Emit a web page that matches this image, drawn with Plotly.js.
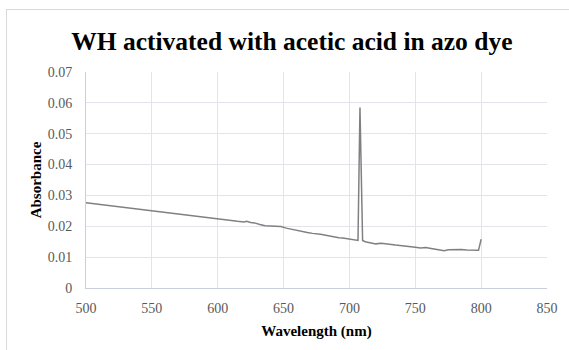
<!DOCTYPE html>
<html>
<head>
<meta charset="utf-8">
<script src="https://cdn.plot.ly/plotly-3.0.1.min.js"></script>
<style>
  html, body { margin: 0; padding: 0; background: #ffffff; }
  #wrap { position: relative; width: 569px; height: 350px; overflow: hidden; }
  #chart { width: 569px; height: 350px; }
  #frame { position: absolute; left: 6px; top: 9px; width: 580px; height: 360px;
           border: 1px solid #d9d9d9; pointer-events: none; box-sizing: border-box; }
</style>
</head>
<body>
<div id="wrap">
  <div id="chart"></div>
  <div id="frame"></div>
</div>
<script>
// Wavelength (nm)
const wavelength = [500, 550, 600, 615, 620, 622, 625, 628, 632, 636, 640, 645, 648, 652, 655, 658,
  662, 665, 668, 672, 675, 678, 682, 685, 688, 692, 695, 698, 702, 706, 706.5, 708, 709.5, 710,
  712, 715, 720, 724, 727, 730, 735, 740, 743, 747, 750, 754, 758, 762, 765, 769, 772, 775,
  778, 782, 785, 789, 792, 795, 798, 800];
// Absorbance
const absorbance = [0.0276, 0.0249, 0.0223, 0.0216, 0.0214, 0.0216, 0.0212, 0.0211, 0.0206, 0.0202,
  0.0201, 0.0199, 0.0199, 0.0194, 0.0191, 0.0189, 0.0185, 0.0182, 0.0180, 0.0177, 0.0176, 0.0174,
  0.0171, 0.0168, 0.0167, 0.0163, 0.0162, 0.0160, 0.0158, 0.0155, 0.0154, 0.0585, 0.0154, 0.0154,
  0.0150, 0.0147, 0.0143, 0.0145, 0.0143, 0.0142, 0.0139, 0.0137, 0.0136, 0.0133, 0.0132, 0.0130,
  0.0131, 0.0128, 0.0126, 0.0124, 0.0121, 0.0124, 0.0125, 0.0124, 0.0125, 0.0123, 0.0122, 0.0123,
  0.0122, 0.0158];

const titleText = "WH activated with acetic acid in azo dye";
const xTitle = "Wavelength (nm)";
const yTitle = "Absorbance";

const serif = "'Liberation Serif', 'Times New Roman', serif";

const trace = {
  x: wavelength,
  y: absorbance,
  type: 'scatter',
  mode: 'lines',
  line: { color: '#808080', width: 1.5 },
  hoverinfo: 'none'
};

const layout = {
  width: 569,
  height: 350,
  margin: { l: 86, r: 22, t: 72, b: 62 },
  paper_bgcolor: '#ffffff',
  plot_bgcolor: '#ffffff',
  showlegend: false,
  title: {
    text: '<b>' + titleText + '</b>',
    font: { family: serif, size: 25.5, color: '#000000' },
    xref: 'container', x: 0.513, xanchor: 'center',
    yref: 'container', y: 0.884, yanchor: 'middle'
  },
  xaxis: {
    range: [500, 850],
    dtick: 50,
    tick0: 500,
    showgrid: true,
    gridcolor: '#e1e4ec',
    gridwidth: 1,
    zeroline: false,
    showline: true,
    linecolor: '#c9cfdc',
    linewidth: 1,
    ticks: '',
    ticklabelstandoff: 7,
    tickfont: { family: serif, size: 14, color: '#595959' },
    title: { text: '<b>' + xTitle + '</b>', font: { family: serif, size: 15, color: '#000000' }, standoff: 10 }
  },
  yaxis: {
    range: [0, 0.07],
    dtick: 0.01,
    tick0: 0,
    showgrid: true,
    gridcolor: '#e1e4ec',
    gridwidth: 1,
    zeroline: false,
    showline: true,
    linecolor: '#c9cfdc',
    linewidth: 1,
    ticks: '',
    ticklabelstandoff: 10,
    tickfont: { family: serif, size: 14, color: '#595959' },
    title: { text: '<b>' + yTitle + '</b>', font: { family: serif, size: 15, color: '#000000' }, standoff: 2 }
  }
};

Plotly.newPlot('chart', [trace], layout, { staticPlot: true, displayModeBar: false });
</script>
</body>
</html>
